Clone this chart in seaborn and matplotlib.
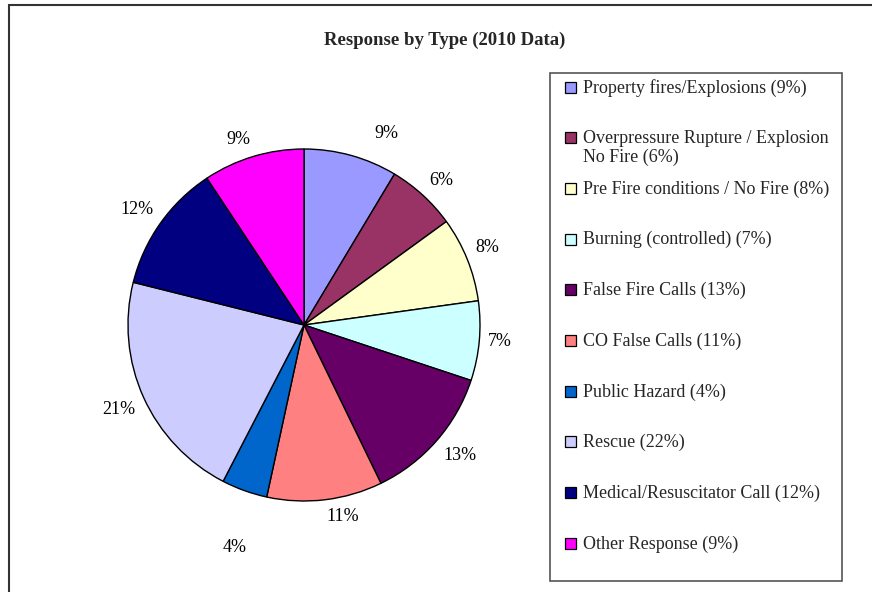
import matplotlib
matplotlib.use("Agg")
import numpy as np
import matplotlib.pyplot as plt
import seaborn as sns
from matplotlib.patches import Rectangle

categories = [
    "Property fires/Explosions",
    "Overpressure Rupture / Explosion No Fire",
    "Pre Fire conditions / No Fire",
    "Burning (controlled)",
    "False Fire Calls",
    "CO False Calls",
    "Public Hazard",
    "Rescue",
    "Medical/Resuscitator Call",
    "Other Response",
]
# shares (%), consistent with the printed labels
values = [8.6, 6.4, 7.8, 7.3, 12.7, 10.6, 4.2, 21.3, 11.8, 9.3]
legend_labels = [
    "Property fires/Explosions (9%)",
    "Overpressure Rupture / Explosion\nNo Fire (6%)",
    "Pre Fire conditions / No Fire (8%)",
    "Burning (controlled) (7%)",
    "False Fire Calls (13%)",
    "CO False Calls (11%)",
    "Public Hazard (4%)",
    "Rescue (22%)",
    "Medical/Resuscitator Call (12%)",
    "Other Response (9%)",
]
colors = ["#9999FF", "#993366", "#FFFFCC", "#CCFFFF", "#660066",
          "#FF8080", "#0066CC", "#CCCCFF", "#000080", "#FF00FF"]

sns.set_theme(style="white")
plt.rcParams["font.family"] = ["Liberation Serif", "DejaVu Serif"]

W, H = 872, 592
fig = plt.figure(figsize=(W / 100, H / 100), dpi=100)

# outer chart border
fig.patches.append(Rectangle((9 / W, -0.1), 1.2, (H - 5) / H + 0.1,
                             transform=fig.transFigure, fill=False,
                             edgecolor="#333333", linewidth=1.5))

fig.text(445 / W, 1 - 40 / H, "Response by Type (2010 Data)",
         ha="center", va="center", fontsize=13.5, fontweight="bold")

cx, cy, r = 304, 325, 176
ax = fig.add_axes([(cx - r) / W, 1 - (cy + r) / H, 2 * r / W, 2 * r / H])
wedges, _ = ax.pie(
    values, colors=colors, startangle=90, counterclock=False,
    wedgeprops=dict(edgecolor="black", linewidth=1.0))
ax.set_xlim(-1, 1)
ax.set_ylim(-1, 1)
ax.set_aspect("equal")
ax.axis("off")

# percentage labels placed just outside each slice (Excel "outside end")
total = sum(values)
nudge = {0: (0.12, 0.03), 6: (0.03, -0.23)}
for i, (w, v) in enumerate(zip(wedges, values)):
    ang = np.deg2rad((w.theta1 + w.theta2) / 2)
    ux, uy = np.cos(ang), np.sin(ang)
    d = 1.05
    x, y = d * ux, d * uy
    dx, dy = nudge.get(i, (0, 0))
    ha = "left" if ux > 0.1 else ("right" if ux < -0.1 else "center")
    va = "bottom" if uy > 0.3 else ("top" if uy < -0.3 else "center")
    ax.text(x + dx, y + dy, f"{100 * v / total:.0f}%", ha=ha, va=va,
            fontsize=13, color="black", clip_on=False)

# legend box
lx0, ly0, lx1, ly1 = 550, 73, 842, 581
fig.patches.append(Rectangle((lx0 / W, 1 - ly1 / H), (lx1 - lx0) / W, (ly1 - ly0) / H,
                             transform=fig.transFigure, fill=False,
                             edgecolor="#555555", linewidth=1.2))
for i, (lab, col) in enumerate(zip(legend_labels, colors)):
    y = 87 + i * 50.7
    fig.patches.append(Rectangle((565 / W, 1 - (y + 5.5) / H), 11 / W, 11 / H,
                                 transform=fig.transFigure, facecolor=col,
                                 edgecolor="black", linewidth=0.9))
    fig.text(583 / W, 1 - (y - 8) / H, lab, ha="left", va="top",
             fontsize=13, linespacing=1.17)

fig.savefig("out.png", dpi=100)
